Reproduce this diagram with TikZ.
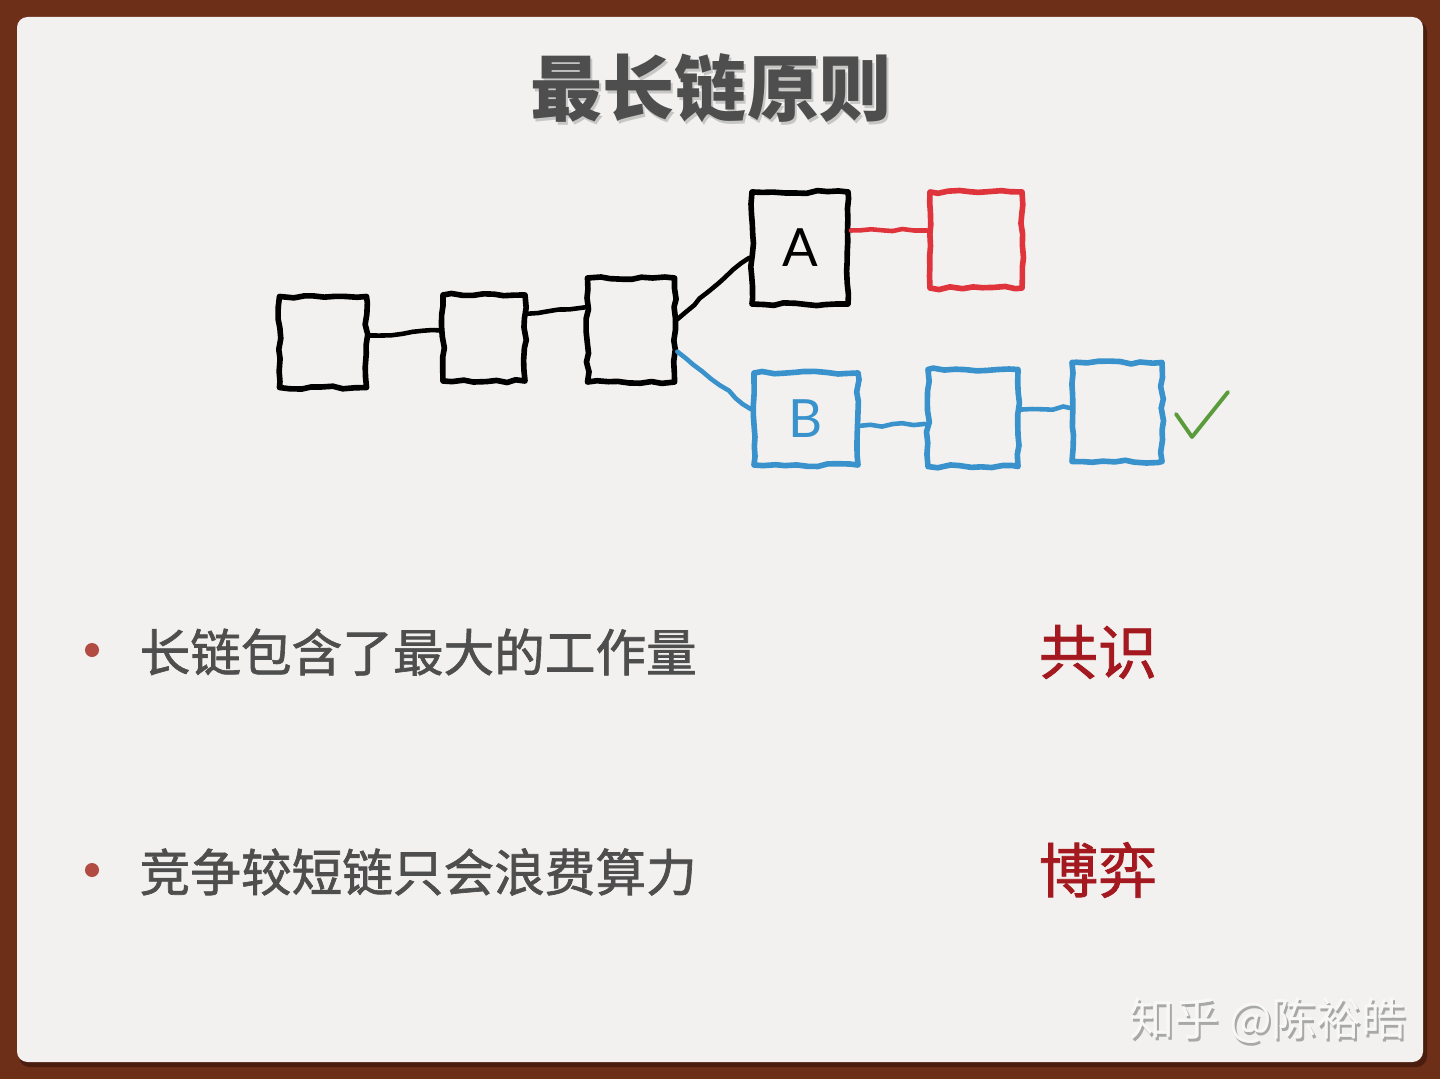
\documentclass[tikz,border=0pt]{standalone}
\usepackage{fontspec}
\setmainfont{Noto Sans CJK SC}
\newfontfamily\cjkmed{Noto Sans CJK SC}[FakeBold=1.3]
\newfontfamily\latinfont{Lato}
\usetikzlibrary{decorations.pathmorphing}
\definecolor{framebrown}{HTML}{6E2F19}
\definecolor{framedark}{HTML}{4A1D0E}
\definecolor{paper}{HTML}{F2F1EF}
\definecolor{textgray}{HTML}{4E4E4E}
\definecolor{titleshade}{HTML}{C6C6C4}
\definecolor{dotred}{HTML}{B24B42}
\definecolor{keyred}{HTML}{A3191F}
\definecolor{chainblue}{HTML}{3A92CD}
\definecolor{chainred}{HTML}{E0343C}
\definecolor{tickgreen}{HTML}{5A9B3C}
\definecolor{markgray}{HTML}{A8A8A6}
\definecolor{markwhite}{HTML}{F7F7F6}
\tikzset{
  crayon/.style={decorate,decoration={random steps,segment length=3pt,amplitude=0.45pt}},
  block/.style={draw,crayon,line width=1.6pt,line join=round,inner sep=0pt,font=\latinfont\fontsize{15}{18}\selectfont},
  link/.style={crayon,line width=1.3pt,line cap=round},
  item/.style={anchor=west,inner sep=0pt,text=textgray,font=\cjkmed\fontsize{14.4}{17}\selectfont},
  key/.style={text=keyred,font=\cjkmed\fontsize{16.8}{20}\selectfont},
  bullet/.style={circle,fill=dotred,inner sep=0pt,minimum size=0.14cm},
}
\begin{document}
\begin{tikzpicture}[x=0.01cm,y=-0.01cm]
  \useasboundingbox (0,0) rectangle (1440,1079);
  % frame and paper
  \fill[framebrown] (0,0) rectangle (1440,1079);
  \fill[framedark,rounded corners=3pt] (19,21) rectangle (1427,1067);
  \fill[paper,rounded corners=3pt] (17,17) rectangle (1423,1062);
  % title
  \node[text=titleshade,font=\bfseries\fontsize{20.5}{24}\selectfont] (titleshadow) at (713,91) {最长链原则};
  \node[text=textgray,font=\bfseries\fontsize{20.5}{24}\selectfont] (title) at (711,88) {最长链原则};
  % blocks
  \node[block,minimum width=0.87cm,minimum height=0.91cm] (0) at (323,342) {};
  \node[block,minimum width=0.82cm,minimum height=0.86cm] (1) at (484,338) {};
  \node[block,minimum width=0.87cm,minimum height=1.04cm] (2) at (631,330) {};
  \node[block,minimum width=0.96cm,minimum height=1.12cm] (3) at (800,248) {A};
  \node[block,draw=chainred,minimum width=0.92cm,minimum height=0.96cm] (4) at (976,240) {};
  \node[block,draw=chainblue,text=chainblue,minimum width=1.04cm,minimum height=0.92cm] (5) at (806,419) {B};
  \node[block,draw=chainblue,minimum width=0.90cm,minimum height=0.97cm] (6) at (973,418) {};
  \node[block,draw=chainblue,minimum width=0.90cm,minimum height=0.99cm] (7) at (1117,412) {};
  \draw[link] (0.8) -- (1.170);
  \draw[link] (1.29) -- (2.154);
  \draw[link] (2.13) -- (3.191);
  \draw[link,chainblue] (2.335) -- (5.170);
  \draw[link,chainred] (3.19) -- (4.169);
  \draw[link,chainblue] (5.353) -- (6.187);
  \draw[link,chainblue] (6.10) -- (7.175);
  % tick
  \coordinate (c0) at (1176,414);
  \coordinate (c1) at (1192,437);
  \coordinate (c2) at (1228,392);
  \draw[tickgreen,line width=1.1pt,line cap=round,line join=round] (c0) -- (c1) -- (c2);
  % bullets
  \node[bullet] (d1) at (92,650) {};
  \node[bullet] (d2) at (92,870) {};
  \node[item] (l1) at (139,652) {长链包含了最大的工作量};
  \node[item] (l2) at (139,872) {竞争较短链只会浪费算力};
  \node[key] (k1) at (1098,652) {共识};
  \node[key] (k2) at (1098,870) {博弈};
  % watermark
  \node[text=markgray,font=\fontsize{12.8}{15}\selectfont] (wmshadow) at (1270,1023) {知乎 @陈裕皓};
  \node[text=markwhite,font=\fontsize{12.8}{15}\selectfont] (wm) at (1268,1020) {知乎 @陈裕皓};
\end{tikzpicture}
\end{document}
